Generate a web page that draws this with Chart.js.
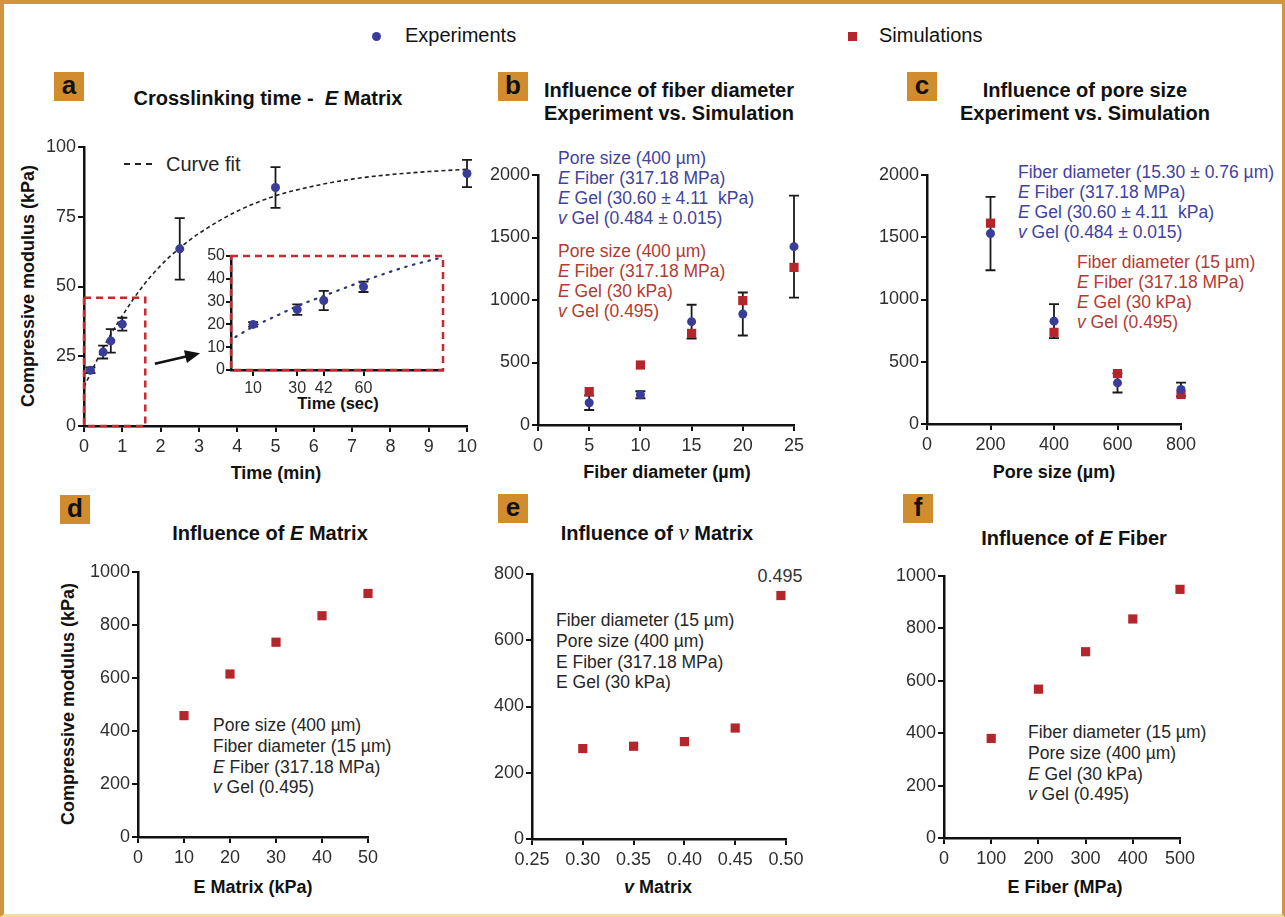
<!DOCTYPE html>
<html lang="en">
<head>
<meta charset="UTF-8">
<title>Compressive modulus: experiments vs. simulations</title>
<script src="https://cdn.jsdelivr.net/npm/chart.js"></script>
<style>
  body { margin: 0; }
  #page { position: relative; width: 1285px; height: 917px; overflow: hidden; background: #fff;
          font-family: 'Liberation Sans', Arial, sans-serif; color: #111; }
  #frame { position: absolute; left: 0; top: 0; width: 1285px; height: 917px; box-sizing: border-box;
           border: 4px solid #d1953c; border-right-width: 3px; border-bottom: 3px solid #f4dd9c; }
  canvas { position: absolute; }
  .c { position: absolute; white-space: nowrap; transform: translate(-50%, -50%); }
  .title { font-weight: bold; font-size: 20px; line-height: 23px; text-align: center; }
  .axt { font-weight: bold; font-size: 18px; }
  .rot { transform: translate(-50%, -50%) rotate(-90deg); }
  .tag { position: absolute; width: 30px; height: 29px; background: #d18d2d; font-weight: bold;
         font-size: 26px; line-height: 26px; text-align: center; color: #111; }
  .note { position: absolute; white-space: nowrap; font-size: 17.5px; }
  .blue { color: #41439c; }
  .red { color: #b43a32; }
  .dark { color: #262626; }
  .leg { position: absolute; font-size: 20px; line-height: 24px; white-space: nowrap; color: #111; }
  .nu { font-family: 'Liberation Serif', 'DejaVu Serif', serif; font-style: italic; font-weight: normal; font-size: 23px; }
</style>
</head>
<body>
<div id="page">
  <div id="frame"></div>

  <!-- shared legend -->
  <div class="leg" style="left:372px; top:23px"><span style="display:inline-block; width:9px; height:9px; border-radius:50%; background:#393c98; vertical-align:middle; margin-right:24px"></span>Experiments</div>
  <div class="leg" style="left:848px; top:23px"><span style="display:inline-block; width:9px; height:9px; background:#b5262c; vertical-align:middle; margin-right:22px"></span>Simulations</div>

  <!-- panel tags -->
  <div class="tag" style="left:54px; top:72px">a</div>
  <div class="tag" style="left:498px; top:72px">b</div>
  <div class="tag" style="left:907px; top:72px">c</div>
  <div class="tag" style="left:60px; top:495px">d</div>
  <div class="tag" style="left:498px; top:494px">e</div>
  <div class="tag" style="left:903px; top:494px">f</div>

  <!-- panel titles -->
  <div class="c title" style="left:268px; top:98px">Crosslinking time -&nbsp; <i>E</i> Matrix</div>
  <div class="c title" style="left:669px; top:102px">Influence of fiber diameter<br>Experiment vs. Simulation</div>
  <div class="c title" style="left:1085px; top:102px">Influence of pore size<br>Experiment vs. Simulation</div>
  <div class="c title" style="left:270px; top:533px">Influence of <i>E</i> Matrix</div>
  <div class="c title" style="left:657px; top:533px">Influence of <span class="nu">v</span> Matrix</div>
  <div class="c title" style="left:1074px; top:538px">Influence of <i>E</i> Fiber</div>

  <!-- axis titles -->
  <div class="c axt rot" style="left:28px; top:286px">Compressive modulus (kPa)</div>
  <div class="c axt" style="left:276px; top:473px">Time (min)</div>
  <div class="c axt" style="left:338px; top:403px; font-size:16.5px">Time (sec)</div>
  <div class="c axt" style="left:667px; top:472px">Fiber diameter (µm)</div>
  <div class="c axt" style="left:1054px; top:472px">Pore size (µm)</div>
  <div class="c axt rot" style="left:68px; top:704px">Compressive modulus (kPa)</div>
  <div class="c axt" style="left:253px; top:887px">E Matrix (kPa)</div>
  <div class="c axt" style="left:658px; top:887px"><i>v</i> Matrix</div>
  <div class="c axt" style="left:1065px; top:887px">E Fiber (MPa)</div>

  <!-- curve fit key in (a) -->
  <div style="position:absolute; left:124px; top:163px; width:28px; border-top:2px dashed #222"></div>
  <div class="note dark" style="left:166px; top:152px; font-size:20px; line-height:24px">Curve fit</div>

  <!-- parameter notes -->
  <div class="note blue" style="left:558px; top:148px; line-height:20px">Pore size (400 µm)<br><i>E</i> Fiber (317.18 MPa)<br><i>E</i> Gel (30.60 ± 4.11 &nbsp;kPa)<br><i>v</i> Gel (0.484 ± 0.015)</div>
  <div class="note red" style="left:558px; top:241px; line-height:20px">Pore size (400 µm)<br><i>E</i> Fiber (317.18 MPa)<br><i>E</i> Gel (30 kPa)<br><i>v</i> Gel (0.495)</div>
  <div class="note blue" style="left:1018px; top:162px; line-height:20px">Fiber diameter (15.30 ± 0.76 µm)<br><i>E</i> Fiber (317.18 MPa)<br><i>E</i> Gel (30.60 ± 4.11 &nbsp;kPa)<br><i>v</i> Gel (0.484 ± 0.015)</div>
  <div class="note red" style="left:1077px; top:252px; line-height:20px">Fiber diameter (15 µm)<br><i>E</i> Fiber (317.18 MPa)<br><i>E</i> Gel (30 kPa)<br><i>v</i> Gel (0.495)</div>
  <div class="note dark" style="left:213px; top:715px; line-height:20.8px">Pore size (400 µm)<br>Fiber diameter (15 µm)<br><i>E</i> Fiber (317.18 MPa)<br><i>v</i> Gel (0.495)</div>
  <div class="note dark" style="left:556px; top:610px; line-height:20.8px">Fiber diameter (15 µm)<br>Pore size (400 µm)<br>E Fiber (317.18 MPa)<br>E Gel (30 kPa)</div>
  <div class="note dark" style="left:1028px; top:722px; line-height:20.8px">Fiber diameter (15 µm)<br>Pore size (400 µm)<br><i>E</i> Gel (30 kPa)<br><i>v</i> Gel (0.495)</div>
  <div class="c" style="left:780px; top:576px; font-size:18px; color:#333">0.495</div>
</div>

<script>
    // ---- data ----
    // (a) crosslinking time vs E matrix (experiments, mean and sd)
    const timeMin = [0.167, 0.5, 0.7, 1, 2.5, 5, 10];
    const timeModulus = [20, 26.5, 30.5, 36.5, 63.5, 85.5, 90.5];
    const timeErr = [1, 2.3, 4.2, 2.3, 11, 7.3, 4.9];
    // fitted curve
    const fitMin = [0, 0.5, 1, 1.5, 2, 2.5, 3, 4, 5, 6, 7, 8, 9, 10];
    const fitModulus = [14, 28, 39.5, 49.5, 57.5, 63.8, 69, 77, 82.5, 86, 88.5, 90.1, 91.2, 92];
    // inset: first part in seconds
    const insetSec = [10, 30, 42, 60];
    const insetModulus = [20, 26.5, 30.5, 36.5];
    const insetErr = [1, 2.3, 4.2, 2.3];
    const insetFitSec = [2, 10, 20, 30, 42, 60, 80, 96];
    const insetFitModulus = [14.5, 19, 23.5, 28, 32.5, 39, 45.5, 49.5];
    const insetTicks = [10, 30, 42, 60];
    // region of (a) blown up in the inset
    const zoomMin = [0, 1.6];
    const zoomKpa = [0, 46];

    // (b) fiber diameter
    const fiberDiameter = [5, 10, 15, 20, 25];
    const fiberExp = [178, 242, 827, 888, 1427];
    const fiberExpErr = [58, 28, 135, 172, 408];
    const fiberSim = [267, 480, 733, 995, 1261];

    // (c) pore size
    const poreSize = [200, 400, 600, 800];
    const poreExp = [1530, 826, 330, 277];
    const poreExpErr = [295, 137, 77, 55];
    const poreSim = [1613, 736, 405, 237];

    // (d) E matrix
    const matrixE = [10, 20, 30, 40, 50];
    const matrixESim = [458, 615, 735, 835, 919];

    // (e) poisson ratio of matrix
    const matrixNu = [0.30, 0.35, 0.40, 0.45, 0.495];
    const matrixNuSim = [273, 280, 294, 335, 735];
    const nuTicks = [0.25, 0.30, 0.35, 0.40, 0.45, 0.50];

    // (f) E fiber
    const fiberE = [100, 200, 300, 400, 500];
    const fiberESim = [380, 568, 711, 836, 949];

    // ---- chart setup ----
    const BLUE = '#393c98';
    const RED = '#b5262c';
    const DASH_RED = '#c8282e';
    const PAD_T = 20, PAD_R = 30;

    Chart.defaults.font.family = "'Liberation Sans', Arial, sans-serif";

    const page = document.getElementById('page');

    function pts(xs, ys) {
        return xs.map(function (v, i) { return { x: v, y: ys[i] }; });
    }

    // vertical error bars for datasets that carry an err array
    const errorBars = {
        id: 'errorBars',
        beforeDatasetsDraw(chart) {
            const ctx = chart.ctx, x = chart.scales.x, y = chart.scales.y;
            chart.data.datasets.forEach(function (ds) {
                if (!ds.err) return;
                ctx.save();
                ctx.strokeStyle = '#1a1a1a';
                ctx.lineWidth = 1.8;
                ds.data.forEach(function (p, i) {
                    const px = x.getPixelForValue(p.x);
                    const top = y.getPixelForValue(p.y + ds.err[i]);
                    const bot = y.getPixelForValue(p.y - ds.err[i]);
                    ctx.beginPath();
                    ctx.moveTo(px, top); ctx.lineTo(px, bot);
                    ctx.moveTo(px - 5, top); ctx.lineTo(px + 5, top);
                    ctx.moveTo(px - 5, bot); ctx.lineTo(px + 5, bot);
                    ctx.stroke();
                });
                ctx.restore();
            });
        }
    };

    // red dashed box on (a) and the arrow pointing at the inset
    const zoomMark = {
        id: 'zoomMark',
        afterDatasetsDraw(chart) {
            const ctx = chart.ctx, x = chart.scales.x, y = chart.scales.y;
            const l = x.getPixelForValue(zoomMin[0]), r = x.getPixelForValue(zoomMin[1]);
            const t = y.getPixelForValue(zoomKpa[1]), b = y.getPixelForValue(zoomKpa[0]);
            ctx.save();
            ctx.strokeStyle = DASH_RED;
            ctx.lineWidth = 2.5;
            ctx.setLineDash([7, 5]);
            ctx.strokeRect(l, t, r - l, b - t);

            const x0 = x.getPixelForValue(1.85), y0 = y.getPixelForValue(22.3);
            const x1 = x.getPixelForValue(3.03), y1 = y.getPixelForValue(26.1);
            const a = Math.atan2(y1 - y0, x1 - x0), c = Math.cos(a), s = Math.sin(a);
            ctx.setLineDash([]);
            ctx.strokeStyle = '#111';
            ctx.fillStyle = '#111';
            ctx.beginPath();
            ctx.moveTo(x0, y0);
            ctx.lineTo(x1 - 12 * c, y1 - 12 * s);
            ctx.stroke();
            ctx.beginPath();
            ctx.moveTo(x1, y1);
            ctx.lineTo(x1 - 15 * c + 6.5 * s, y1 - 15 * s - 6.5 * c);
            ctx.lineTo(x1 - 15 * c - 6.5 * s, y1 - 15 * s + 6.5 * c);
            ctx.closePath();
            ctx.fill();
            ctx.restore();
        }
    };

    // dashed frame around the inset
    const insetFrame = {
        id: 'insetFrame',
        afterDatasetsDraw(chart) {
            const ctx = chart.ctx, a = chart.chartArea;
            ctx.save();
            ctx.strokeStyle = DASH_RED;
            ctx.lineWidth = 2.5;
            ctx.setLineDash([7, 5]);
            ctx.strokeRect(a.left, a.top, a.right - a.left, a.bottom - a.top);
            ctx.restore();
        }
    };

    // a canvas sized so that its chart area lands on box L/T/R/B
    function place(box) {
        const cv = document.createElement('canvas');
        const w = box.yW + (box.R - box.L) + PAD_R;
        const h = PAD_T + (box.B - box.T) + box.xH;
        cv.width = w; cv.height = h;
        cv.style.left = (box.L - box.yW) + 'px';
        cv.style.top = (box.T - PAD_T) + 'px';
        cv.style.width = w + 'px';
        cv.style.height = h + 'px';
        page.appendChild(cv);
        return cv;
    }

    function scale(min, max, step, o) {
        o = o || {};
        const s = {
            type: 'linear', min: min, max: max,
            ticks: {
                stepSize: step, autoSkip: false, maxRotation: 0, color: '#2e2e2e',
                font: { size: o.size || 18 }, padding: o.pad,
                callback: o.fmt || function (v) { return String(v); }
            },
            grid: { drawOnChartArea: false, tickLength: o.tl || 6, lineWidth: 2, color: '#111' },
            border: { color: '#111', width: 2.5 }
        };
        if (o.ticks) s.afterBuildTicks = function (sc) { sc.ticks = o.ticks.map(function (v) { return { value: v }; }); };
        return s;
    }

    function scatterChart(box, datasets, xs, ys, extra) {
        const cv = place(box);
        xs.afterFit = function (sc) { sc.height = box.xH; };
        ys.afterFit = function (sc) { sc.width = box.yW; };
        return new Chart(cv, {
            type: 'scatter',
            data: { datasets: datasets },
            options: {
                responsive: false, animation: false, devicePixelRatio: 1,
                layout: { padding: { top: PAD_T, right: PAD_R, left: 0, bottom: 0 } },
                plugins: { legend: { display: false }, tooltip: { enabled: false } },
                scales: { x: xs, y: ys }
            },
            plugins: [errorBars].concat(extra || [])
        });
    }

    function expSet(xs, ys, err) {
        return { data: pts(xs, ys), err: err, pointStyle: 'circle', pointRadius: 4.5,
                 backgroundColor: BLUE, borderColor: BLUE, borderWidth: 0, clip: false, order: 1 };
    }
    function simSet(xs, ys) {
        return { data: pts(xs, ys), pointStyle: 'rect', pointRadius: 6.5,
                 backgroundColor: RED, borderColor: RED, borderWidth: 0, clip: false, order: 2 };
    }

    // (a)
    scatterChart({ L: 84, R: 467, T: 147, B: 426, yW: 50, xH: 36 }, [
        expSet(timeMin, timeModulus, timeErr),
        { data: pts(fitMin, fitModulus), showLine: true, borderColor: '#222', borderWidth: 1.6,
          borderDash: [4, 3], pointRadius: 0, cubicInterpolationMode: 'monotone', order: 3 }
    ], scale(0, 10, 1, { pad: 4 }), scale(0, 100, 25, { pad: 2 }), [zoomMark]);

    // inset of (a)
    scatterChart({ L: 231, R: 443, T: 256, B: 370, yW: 40, xH: 32 }, [
        expSet(insetSec, insetModulus, insetErr),
        { data: pts(insetFitSec, insetFitModulus), showLine: true, borderColor: '#2d3470', borderWidth: 2.2,
          borderDash: [1.5, 6.5], borderCapStyle: 'round', pointRadius: 0, cubicInterpolationMode: 'monotone', order: 3 }
    ], scale(0, 96, 10, { size: 16, pad: 3, ticks: insetTicks }), scale(0, 50, 10, { size: 16, pad: 1, tl: 5 }), [insetFrame]);

    // (b)
    scatterChart({ L: 538, R: 794, T: 175, B: 425, yW: 50, xH: 36 }, [
        expSet(fiberDiameter, fiberExp, fiberExpErr),
        simSet(fiberDiameter, fiberSim)
    ], scale(0, 25, 5, { pad: 4 }), scale(0, 2000, 500, { pad: 2 }));

    // (c)
    scatterChart({ L: 927, R: 1181, T: 175, B: 424, yW: 50, xH: 36 }, [
        expSet(poreSize, poreExp, poreExpErr),
        simSet(poreSize, poreSim)
    ], scale(0, 800, 200, { pad: 4 }), scale(0, 2000, 500, { pad: 2 }));

    // (d)
    scatterChart({ L: 138, R: 368, T: 572, B: 837, yW: 50, xH: 36 }, [
        simSet(matrixE, matrixESim)
    ], scale(0, 50, 10, { pad: 4 }), scale(0, 1000, 200, { pad: 2 }));

    // (e)
    scatterChart({ L: 532, R: 786, T: 574, B: 839, yW: 50, xH: 36 }, [
        simSet(matrixNu, matrixNuSim)
    ], scale(0.25, 0.5, 0.05, { pad: 4, ticks: nuTicks, fmt: function (v) { return Number(v).toFixed(2); } }),
       scale(0, 800, 200, { pad: 2 }));

    // (f)
    scatterChart({ L: 944, R: 1180, T: 576, B: 838, yW: 50, xH: 36 }, [
        simSet(fiberE, fiberESim)
    ], scale(0, 500, 100, { pad: 4 }), scale(0, 1000, 200, { pad: 2 }));
</script>
</body>
</html>
